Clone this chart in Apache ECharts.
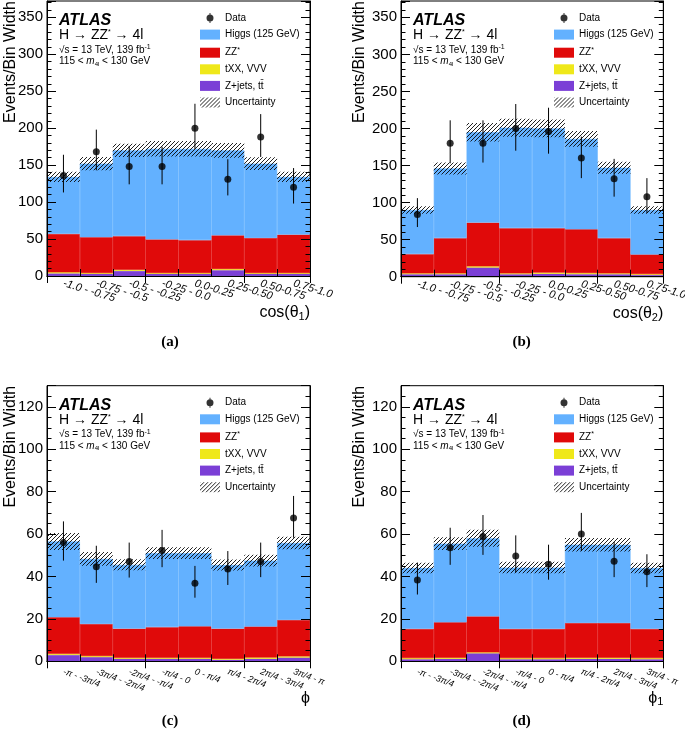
<!DOCTYPE html>
<html><head><meta charset="utf-8">
<script src="https://cdn.jsdelivr.net/npm/echarts@6/dist/echarts.min.js"></script>
<style>html,body{margin:0;padding:0;background:#fff}#c{width:685px;height:729px}</style>
</head><body><div id="c"></div>
<script>
// ---- categories / tick labels ----
const binsCos = ['-1.0 - -0.75', '-0.75 - -0.5', '-0.5 - -0.25', '-0.25 - 0.0', '0.0-0.25', '0.25-0.50', '0.50-0.75', '0.75-1.0'];
const binsPhi = ['-π - -3π/4', '-3π/4 - -2π/4', '-2π/4 - -π/4', '-π/4 - 0', '0 - π/4', 'π/4 - 2π/4', '2π/4 - 3π/4', '3π/4 - π'];

// ---- (a) cos(theta1) ----
const aZJets = [3.5, 3, 7, 3, 3, 8, 3, 3];
const aTXX   = [1.5, 1, 1.5, 1, 1, 1.5, 1, 1];
const aZZ    = [52, 48.5, 45.5, 45.5, 44.5, 45.5, 47.5, 52];
const aHiggs = [77, 99.5, 116, 122.5, 123.5, 115, 100.5, 78];
const aUnc   = [7, 9, 9, 10.5, 10.5, 10, 8.5, 7];
const aData  = [136, 168, 148, 148, 200, 131, 188, 120];
const aLo    = [113, 143, 124, 124, 172, 109, 161, 98];
const aHi    = [164, 198, 176, 175, 233, 158, 219, 146];

// ---- (b) cos(theta2) ----
const bZJets = [3.5, 3.5, 12.5, 3.5, 4, 3.5, 3.5, 2.5];
const bTXX   = [1, 1, 1.5, 1, 1.5, 1.5, 1, 1];
const bZZ    = [26, 47.5, 59, 61, 60, 59, 47.5, 26.5];
const bHiggs = [59.5, 94, 122, 135.5, 134.5, 122, 95, 60];
const bUnc   = [5, 8, 12.5, 12, 12, 10.5, 8, 5];
const bData  = [84, 180, 180, 200, 196, 160, 132, 108];
const bLo    = [67, 153, 154, 170, 166, 133, 108, 86];
const bHi    = [106, 211, 211, 233, 228, 189, 159, 133];

// ---- (c) phi ----
const cZJets = [3, 2, 1.2, 1.2, 1.2, 0.8, 1.2, 1.8];
const cTXX   = [0.5, 0.5, 0.4, 0.4, 0.4, 0.4, 0.6, 0.5];
const cZZ    = [17.3, 15.1, 13.8, 14.5, 14.9, 14.2, 14.6, 17.2];
const cHiggs = [35.7, 30.7, 30.1, 34.9, 34.5, 30, 31.1, 36.3];
const cUnc   = [4, 3.2, 2.6, 2.8, 2.8, 2.6, 2.8, 3];
const cData  = [56, 44.6, 47.1, 52.3, 36.8, 43.5, 47.1, 67.6];
const cLo    = [47.5, 37, 39.5, 44.4, 30, 36, 39.7, 58.3];
const cHi    = [66, 54.5, 56, 62, 45, 52, 56, 78];

// ---- (d) phi1 ----
const dZJets = [1, 1.2, 3.8, 1, 1, 1.2, 1.2, 1];
const dTXX   = [0.5, 0.5, 0.4, 0.5, 0.5, 0.5, 0.5, 0.5];
const dZZ    = [13.8, 16.7, 17, 13.8, 13.8, 16.4, 16.4, 13.8];
const dHiggs = [28.7, 37.1, 36.8, 28.9, 28.9, 36.9, 36.9, 28.7];
const dUnc   = [2.5, 3, 4, 2.7, 2.7, 3.2, 3.2, 2.5];
const dData  = [38.3, 53.6, 58.9, 49.7, 45.8, 60, 47.2, 42.2];
const dLo    = [31.5, 45.5, 50.2, 42, 38.5, 52, 39.7, 35];
const dHi    = [46.5, 63, 69, 59.4, 55, 70, 56.3, 50.5];

const FONT = '"Liberation Sans", Arial, Helvetica, sans-serif';
const C_H = '#63B1FF', C_ZZ = '#E00A0A', C_TXX = '#EFE81A', C_ZJ = '#7B3FD6';

// hatch pattern
const pc = document.createElement('canvas');
pc.width = 4; pc.height = 4;
const pctx = pc.getContext('2d');
pctx.strokeStyle = 'rgba(10,10,10,0.9)';
pctx.lineWidth = 1;
pctx.beginPath();
pctx.moveTo(-1, 5); pctx.lineTo(5, -1);
pctx.moveTo(-1, 1); pctx.lineTo(1, -1);
pctx.moveTo(3, 5); pctx.lineTo(5, 3);
pctx.stroke();
const hatch = { image: pc, repeat: 'repeat' };

const panels = [
  { cats: binsCos, zj: aZJets, txx: aTXX, zz: aZZ, h: aHiggs, unc: aUnc, data: aData, lo: aLo, hi: aHi,
    left: 47, top: 1, width: 263, height: 275, max: 372, interval: 50, minor: 5,
    lab: { rotate: -17, fontSize: 11, margin: 7 }, title: 'cos(θ{sub|1})', tag: '(a)', tagX: 170, tagY: 342, ytX: 11 },
  { cats: binsCos, zj: bZJets, txx: bTXX, zz: bZZ, h: bHiggs, unc: bUnc, data: bData, lo: bLo, hi: bHi,
    left: 401, top: 1, width: 262.3, height: 275.7, max: 372, interval: 50, minor: 5,
    lab: { rotate: -17, fontSize: 11, margin: 7 }, title: 'cos(θ{sub|2})', tag: '(b)', tagX: 521.7, tagY: 342, ytX: 360 },
  { cats: binsPhi, zj: cZJets, txx: cTXX, zz: cZZ, h: cHiggs, unc: cUnc, data: cData, lo: cLo, hi: cHi,
    left: 47, top: 385.7, width: 263, height: 275.6, max: 130, interval: 20, minor: 4,
    lab: { rotate: -20, fontSize: 9, margin: 10 }, title: 'ϕ', tag: '(c)', tagX: 170, tagY: 721.5, ytX: 11 },
  { cats: binsPhi, zj: dZJets, txx: dTXX, zz: dZZ, h: dHiggs, unc: dUnc, data: dData, lo: dLo, hi: dHi,
    left: 401, top: 385.7, width: 262.3, height: 275.6, max: 130, interval: 20, minor: 4,
    lab: { rotate: -20, fontSize: 9, margin: 10 }, title: 'ϕ{sub|1}', tag: '(d)', tagX: 521.7, tagY: 721.5, ytX: 360 }
];

const option = { animation: false, grid: [], xAxis: [], yAxis: [], series: [], legend: [], graphic: [] };
const dataIcon = 'path://M9.5,0L10.5,0L10.5,1.5L9.5,1.5Z M9.5,8.5L10.5,8.5L10.5,10L9.5,10Z M6.5,5A3.5,3.5,0,1,1,13.5,5A3.5,3.5,0,1,1,6.5,5Z';
const lineBlack = { color: '#000', width: 1 };
const richCommon = {
  sup: { fontSize: 7, fontFamily: FONT, fill: '#000', color: '#000', padding: [0, 0, 6, 0] },
  sub: { fontSize: 10, fontFamily: FONT, fill: '#000', color: '#000', padding: [6, 0, 0, 0] },
  it: { fontSize: 10, fontFamily: FONT, fontStyle: 'italic', fill: '#000', color: '#000' },
  sub7: { fontSize: 6, fontFamily: FONT, fill: '#000', color: '#000', padding: [5, 0, 0, 0] }
};

panels.forEach((p, k) => {
  option.grid.push({ left: p.left, top: p.top, width: p.width, height: p.height, show: true,
    borderColor: '#000', borderWidth: 1, backgroundColor: 'transparent', containLabel: false, outerBoundsMode: 'none' });
  option.xAxis.push({ type: 'category', gridIndex: k, data: p.cats, position: 'bottom', boundaryGap: true,
    axisLine: { show: true, lineStyle: lineBlack },
    axisTick: { show: true, inside: true, length: 7, lineStyle: lineBlack },
    axisLabel: { interval: 0, rotate: p.lab.rotate, margin: p.lab.margin, fontSize: p.lab.fontSize,
      fontStyle: 'italic', fontFamily: FONT, color: '#000' },
    splitLine: { show: false }, z: 10 });
  option.xAxis.push({ type: 'category', gridIndex: k, data: p.cats, position: 'top', boundaryGap: true,
    axisLine: { show: true, lineStyle: lineBlack },
    axisTick: { show: true, inside: true, length: 7, lineStyle: lineBlack },
    axisLabel: { show: false }, splitLine: { show: false }, z: 10 });
  const yBase = { type: 'value', gridIndex: k, min: 0, max: p.max, interval: p.interval,
    axisLine: { show: true, lineStyle: lineBlack },
    axisTick: { show: true, inside: true, length: 9, lineStyle: lineBlack },
    minorTick: { show: true, splitNumber: p.minor, length: 4.5, lineStyle: lineBlack },
    splitLine: { show: false }, minorSplitLine: { show: false }, z: 10 };
  option.yAxis.push(Object.assign({}, yBase, { position: 'left',
    axisLabel: { fontSize: 15, margin: 4, color: '#000', fontFamily: FONT, showMaxLabel: false } }));
  option.yAxis.push(Object.assign({}, yBase, { position: 'right', axisLabel: { show: false } }));

  const xi = 2 * k, yi = 2 * k;
  const barCommon = { type: 'bar', xAxisIndex: xi, yAxisIndex: yi, barCategoryGap: '0%', barGap: '-100%', silent: true, z: 2 };
  const solid = c => ({ color: c, borderColor: c, borderWidth: 0.6 });
  option.series.push(Object.assign({ name: 'Z+jets, tt̄', stack: 'mc' + k, data: p.zj, itemStyle: solid(C_ZJ) }, barCommon));
  option.series.push(Object.assign({ name: 'tXX, VVV', stack: 'mc' + k, data: p.txx, itemStyle: solid(C_TXX) }, barCommon));
  option.series.push(Object.assign({ name: 'ZZ*', stack: 'mc' + k, data: p.zz, itemStyle: solid(C_ZZ) }, barCommon));
  option.series.push(Object.assign({ name: 'Higgs (125 GeV)', stack: 'mc' + k, data: p.h, itemStyle: solid(C_H) }, barCommon));
  const total = p.h.map((v, i) => v + p.zz[i] + p.txx[i] + p.zj[i]);
  option.series.push(Object.assign({ name: 'uncBase', stack: 'unc' + k, data: total.map((t, i) => t - p.unc[i]),
    itemStyle: { color: 'rgba(0,0,0,0)' } }, barCommon));
  option.series.push(Object.assign({ name: 'Uncertainty', stack: 'unc' + k, data: p.unc.map(u => 2 * u),
    itemStyle: { color: hatch } }, barCommon, { z: 3 }));
  option.series.push({ type: 'custom', name: 'err', xAxisIndex: xi, yAxisIndex: yi, silent: true, z: 5,
    data: p.lo.map((l, i) => [i, l, p.hi[i]]),
    encode: { x: 0, y: [1, 2] },
    renderItem: function (params, api) {
      const a = api.coord([api.value(0), api.value(1)]);
      const b = api.coord([api.value(0), api.value(2)]);
      return { type: 'line', shape: { x1: a[0], y1: a[1], x2: b[0], y2: b[1] }, style: { stroke: '#000', lineWidth: 1 } };
    } });
  option.series.push({ type: 'scatter', name: 'Data', xAxisIndex: xi, yAxisIndex: yi, data: p.data,
    symbol: 'circle', symbolSize: 7, itemStyle: { color: '#000' }, silent: true, z: 6 });

  option.legend.push({ left: p.left + 153, top: p.top + 12, orient: 'vertical', itemWidth: 20, itemHeight: 10,
    itemGap: 6.6, padding: 0, selectedMode: false, itemStyle: { borderWidth: 0 },
    data: [{ name: 'Data', icon: dataIcon }, { name: 'Higgs (125 GeV)', icon: 'rect' }, { name: 'ZZ*', icon: 'rect' },
      { name: 'tXX, VVV', icon: 'rect' }, { name: 'Z+jets, tt̄', icon: 'rect' }, { name: 'Uncertainty', icon: 'rect' }],
    formatter: n => n === 'ZZ*' ? 'ZZ{sup|*}' : n,
    textStyle: { fontSize: 10, fontFamily: FONT, color: '#000', rich: richCommon } });

  const tx = p.left + 12;
  const T = (text, x, y, style, extra) => option.graphic.push(Object.assign({ type: 'text', x: x, y: y, silent: true,
    style: Object.assign({ text: text, fill: '#000', fontFamily: FONT, align: 'left', verticalAlign: 'middle', rich: richCommon }, style) }, extra || {}));
  T('ATLAS', tx, p.top + 20, { fontSize: 16, fontWeight: 'bold', fontStyle: 'italic' });
  T('H → ZZ{sup|*} → 4l', tx, p.top + 34.5, { fontSize: 14 });
  T('√s = 13 TeV, 139 fb{sup|-1}', tx, p.top + 49, { fontSize: 10 });
  T('115 < {it|m}{sub7|4l} < 130 GeV', tx, p.top + 60.5, { fontSize: 10 });
  T('Events/Bin Width', p.ytX, p.top + 61, { fontSize: 16, align: 'center' }, { rotation: Math.PI / 2 });
  T(p.title, p.left + p.width, p.top + p.height + 37, { fontSize: 16, align: 'right',
    rich: { sub: { fontSize: 11, fontFamily: FONT, fill: '#000', padding: [8, 0, 0, 0] } } });
  T(p.tag, p.tagX, p.tagY, { fontSize: 15, fontWeight: 'bold', fontFamily: '"Liberation Serif", "Times New Roman", serif', align: 'center' });
});

const chart = echarts.init(document.getElementById('c'), null, { renderer: 'canvas' });
chart.setOption(option);
</script></body></html>
